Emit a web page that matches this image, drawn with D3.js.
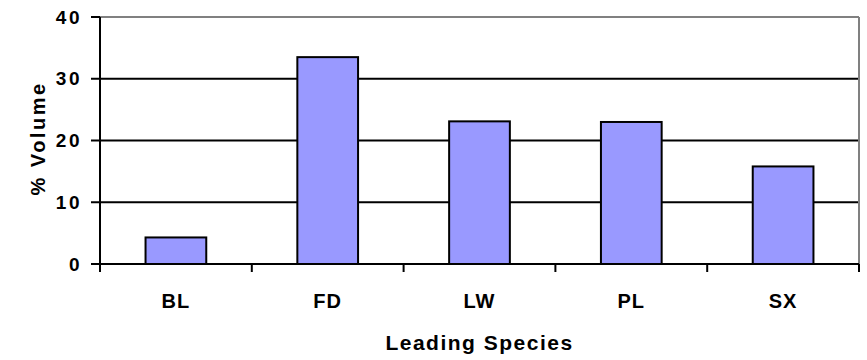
<!DOCTYPE html>
<html>
<head>
<meta charset="utf-8">
<script src="https://cdn.jsdelivr.net/npm/d3@7"></script>
<style>
  html, body { margin: 0; padding: 0; background: #fff; }
  text { font-family: Arial, "Liberation Sans", Helvetica, sans-serif; font-weight: bold; fill: #000; }
</style>
</head>
<body>
<svg id="chart" width="867" height="360"></svg>
<script>
// Share of volume by leading species
const species = ["BL", "FD", "LW", "PL", "SX"];
const volumePct = [4.3, 33.5, 23.1, 23.0, 15.8];
const yTicks = [0, 10, 20, 30, 40];

const svg = d3.select("#chart");
const margin = { left: 100, right: 8, top: 17, bottom: 96 };
const W = 867, H = 360;
const plotW = W - margin.left - margin.right;
const plotH = H - margin.top - margin.bottom;

const x = d3.scaleBand().domain(species).range([0, plotW]).paddingInner(0.6).paddingOuter(0.3);
const xEdge = d3.scaleLinear().domain([0, species.length]).range([0, plotW]);
const y = d3.scaleLinear().domain([0, 40]).range([plotH, 0]);

const g = svg.append("g").attr("transform", `translate(${margin.left},${margin.top})`);

// horizontal gridlines (top one is the grey frame)
g.selectAll("line.grid").data(yTicks.filter(t => t > 0)).enter().append("line")
  .attr("x1", 0).attr("x2", plotW)
  .attr("y1", d => y(d)).attr("y2", d => y(d))
  .attr("stroke", d => d === 40 ? "#808080" : "#000")
  .attr("stroke-width", 2);

// right frame
g.append("line").attr("x1", plotW).attr("x2", plotW).attr("y1", y(40)).attr("y2", y(0))
  .attr("stroke", "#808080").attr("stroke-width", 2);

// bars
g.selectAll("rect.bar").data(species).enter().append("rect")
  .attr("x", d => x(d))
  .attr("width", x.bandwidth())
  .attr("y", (d, i) => y(volumePct[i]))
  .attr("height", (d, i) => y(0) - y(volumePct[i]))
  .attr("fill", "#9999FF")
  .attr("stroke", "#000")
  .attr("stroke-width", 2);

// y axis
g.append("line").attr("x1", 0).attr("x2", 0).attr("y1", y(40)).attr("y2", y(0))
  .attr("stroke", "#000").attr("stroke-width", 2);
g.selectAll("line.ytick").data(yTicks).enter().append("line")
  .attr("x1", -9).attr("x2", 0)
  .attr("y1", d => y(d)).attr("y2", d => y(d))
  .attr("stroke", "#000").attr("stroke-width", 2);
g.selectAll("text.ylab").data(yTicks).enter().append("text")
  .attr("x", -18).attr("y", d => y(d))
  .attr("dy", "0.35em")
  .attr("text-anchor", "end")
  .style("font-size", "19px")
  .style("letter-spacing", "2.5px")
  .text(d => d);

// x axis
g.append("line").attr("x1", 0).attr("x2", plotW).attr("y1", y(0)).attr("y2", y(0))
  .attr("stroke", "#000").attr("stroke-width", 2);
g.selectAll("line.xtick").data(d3.range(species.length + 1)).enter().append("line")
  .attr("x1", d => xEdge(d)).attr("x2", d => xEdge(d))
  .attr("y1", y(0)).attr("y2", y(0) + 8)
  .attr("stroke", "#000").attr("stroke-width", 2);
g.selectAll("text.xlab").data(species).enter().append("text")
  .attr("x", d => x(d) + x.bandwidth() / 2)
  .attr("y", y(0) + 44)
  .attr("text-anchor", "middle")
  .style("font-size", "20px")
  .style("letter-spacing", "1px")
  .text(d => d);

// axis titles
svg.append("text")
  .attr("x", margin.left + plotW / 2)
  .attr("y", 350)
  .attr("text-anchor", "middle")
  .style("font-size", "21px")
  .style("letter-spacing", "1.5px")
  .text("Leading Species");

svg.append("text")
  .attr("transform", `translate(45,${margin.top + plotH / 2 - 2}) rotate(-90)`)
  .attr("text-anchor", "middle")
  .style("font-size", "20px")
  .style("letter-spacing", "2.5px")
  .text("% Volume");
</script>
</body>
</html>
